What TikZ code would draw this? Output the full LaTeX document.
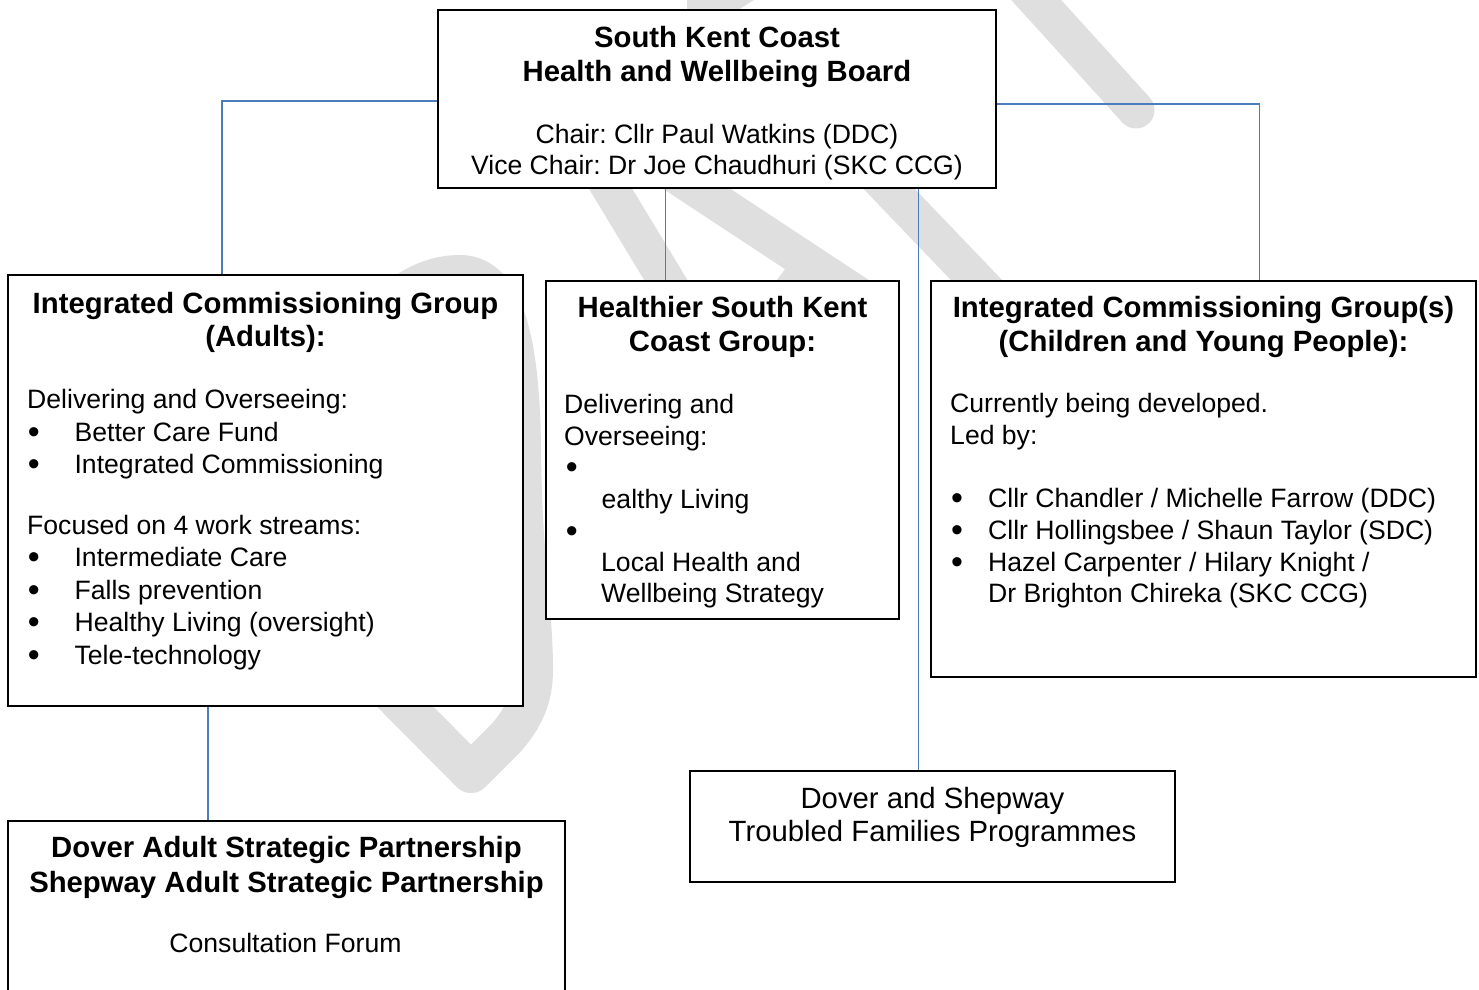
\documentclass[tikz,border=0pt]{standalone}
\usepackage{fontspec}
\setmainfont{Liberation Sans}
\frenchspacing
\definecolor{lineblue}{RGB}{74,126,187}
\definecolor{wmgray}{RGB}{223,223,223}
\begin{document}
\frenchspacing
\begin{tikzpicture}[x=1pt,y=-1pt,
  box/.style={draw=black,line width=2pt,fill=white,rectangle,inner sep=0pt},
  conn/.style={draw=lineblue,line width=1.7pt},
  wm/.style={draw=wmgray,line width=37pt,line cap=round,line join=round},
  bt/.style={inner sep=0pt,anchor=base,font=\fontsize{29.3}{34}\selectfont\bfseries},
  rt/.style={inner sep=0pt,anchor=base west,font=\fontsize{26.6}{32}\selectfont},
  rc/.style={inner sep=0pt,anchor=base,font=\fontsize{26.6}{32}\selectfont},
  rbig/.style={inner sep=0pt,anchor=base,font=\fontsize{29.3}{34}\selectfont},
  bul/.style={inner sep=0pt,anchor=base,font=\fontsize{34}{36}\selectfont}]
\useasboundingbox (0,0) rectangle (1479,989);
\fill[white] (0,0) rectangle (1479,989);
% watermark
\path[wm,line width=40pt] (200,500) -- (471,773) -- (505,739) .. controls (522,720) and (533,700) .. (533,670) .. controls (533,610) and (522,560) .. (521,450) .. controls (520,330) and (500,275) .. (460,275) .. controls (435,275) and (415,285) .. (395,300) -- cycle;
\draw[wm] (575,130) -- (690,320);
\draw[wm] (650,158) -- (870,303);
\draw[wm] (740,360) -- (800,280);
\draw[wm] (850,148) -- (1010,315);
\draw[wm] (990,-51) -- (1136,110);
\fill[wmgray] (687,-2) -- (757,-2) -- (735,12) -- (687,12) -- cycle;
% boxes
\node[box,minimum width=558pt,minimum height=178pt] (board) at (717,99) {};
\node[box,minimum width=515pt,minimum height=431pt] (icga) at (265.5,490.5) {};
\node[box,minimum width=353pt,minimum height=338pt] (hsk) at (722.5,450) {};
\node[box,minimum width=545pt,minimum height=396pt] (icgc) at (1203.5,479) {};
\node[box,minimum width=557pt,minimum height=189pt] (dasp) at (286.5,915.5) {};
\node[box,minimum width=485pt,minimum height=111pt] (tf) at (932.5,826.5) {};
% connectors
\draw[conn] ([yshift=-2pt]board.west) -| ([xshift=-43.5pt]icga.north);
\draw[conn] ([yshift=-5pt]board.east) -| ([xshift=56pt]icgc.north);
\draw[conn] ([xshift=-51.5pt]board.south) -- ([xshift=-51.5pt]board.south |- hsk.north);
\draw[conn] ([xshift=201.5pt]board.south) -- ([xshift=201.5pt]board.south |- tf.north);
\draw[conn] ([xshift=-57.5pt]icga.south) -- ([xshift=-57.5pt]icga.south |- dasp.north);
% board text
\node[bt] (b1) at (717,47) {South Kent Coast};
\node[bt] (b2) at (717,81) {Health and Wellbeing Board};
\node[rc] (b3) at (717,143) {Chair: Cllr Paul Watkins (DDC)};
\node[rc] (b4) at (717,174) {Vice Chair: Dr Joe Chaudhuri (SKC CCG)};
% adults
\node[bt] (a1) at (265.5,313) {Integrated Commissioning Group};
\node[bt] (a2) at (265.5,346) {(Adults):};
\node[rt] (a3) at (27,408) {Delivering and Overseeing:};
\node[bul] (a4b) at (33.8,443) {•};
\node[rt] (a4) at (74.4,441) {Better Care Fund};
\node[bul] (a5b) at (33.8,475) {•};
\node[rt] (a5) at (74.4,473) {Integrated Commissioning};
\node[rt] (a6) at (27,534) {Focused on 4 work streams:};
\node[bul] (a7b) at (33.8,568.7) {•};
\node[rt] (a7) at (74.4,566.7) {Intermediate Care};
\node[bul] (a8b) at (33.8,601.3) {•};
\node[rt] (a8) at (74.4,599.3) {Falls prevention};
\node[bul] (a9b) at (33.8,633.7) {•};
\node[rt] (a9) at (74.4,631.7) {Healthy Living (oversight)};
\node[bul] (a10b) at (33.8,666.3) {•};
\node[rt] (a10) at (74.4,664.3) {Tele-technology};
% healthier
\node[bt] (h1) at (722.5,317) {Healthier South Kent};
\node[bt] (h2) at (722.5,351) {Coast Group:};
\node[rt] (h3) at (564,413) {Delivering and};
\node[rt] (h4) at (564,445) {Overseeing:};
\node[bul] (h5b) at (571.7,478) {•};
\node[rt] (h5) at (601.5,508) {ealthy Living};
\node[bul] (h6b) at (571.7,542) {•};
\node[rt] (h6) at (601,571.7) {Local Health and};
\node[rt] (h7) at (601,602.7) {Wellbeing Strategy};
% children
\node[bt] (c1) at (1203.5,317) {Integrated Commissioning Group(s)};
\node[bt] (c2) at (1203.5,351) {(Children and Young People):};
\node[rt] (c3) at (950,412.7) {Currently being developed.};
\node[rt] (c4) at (950,444) {Led by:};
\node[bul] (c5b) at (957,509.3) {•};
\node[rt] (c5) at (988,507.3) {Cllr Chandler / Michelle Farrow (DDC)};
\node[bul] (c6b) at (957,541.3) {•};
\node[rt] (c6) at (988,539.3) {Cllr Hollingsbee / Shaun Taylor (SDC)};
\node[bul] (c7b) at (957,573.7) {•};
\node[rt] (c7) at (988,571.7) {Hazel Carpenter / Hilary Knight /};
\node[rt] (c8) at (988,602.7) {Dr Brighton Chireka (SKC CCG)};
% dover adult
\node[bt] (d1) at (286.5,857) {Dover Adult Strategic Partnership};
\node[bt] (d2) at (286.5,892) {Shepway Adult Strategic Partnership};
\node[rc] (d3) at (285.5,952.3) {Consultation Forum};
% troubled
\node[rbig] (t1) at (932.5,808.3) {Dover and Shepway};
\node[rbig] (t2) at (932.5,841.7) {Troubled Families Programmes};
\end{tikzpicture}
\end{document}
